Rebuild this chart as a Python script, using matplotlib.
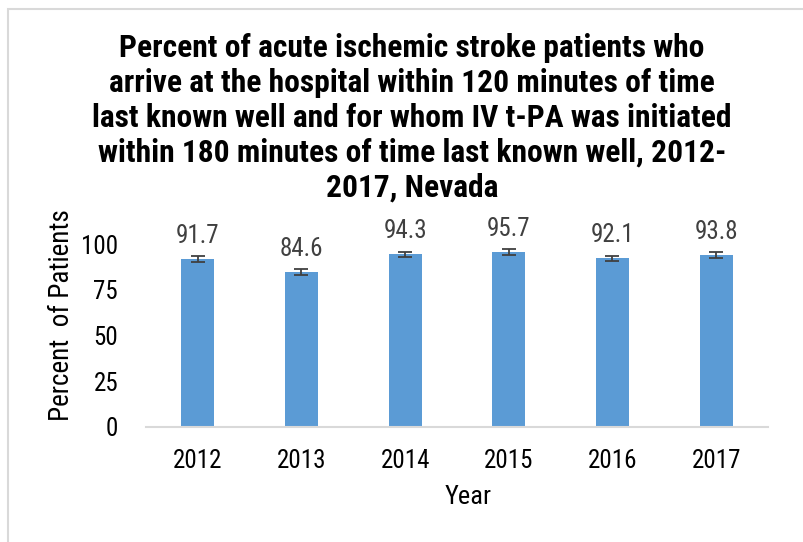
import matplotlib
matplotlib.use('Agg')
import matplotlib.pyplot as plt
from matplotlib.patches import Rectangle

plt.rcParams['font.family'] = ['Roboto Condensed', 'DejaVu Sans']

# Data
years = ['2012', '2013', '2014', '2015', '2016', '2017']
percent = [91.7, 84.6, 94.3, 95.7, 92.1, 93.8]
err = [1.7, 1.7, 1.6, 1.5, 1.6, 1.6]
yticks = [0, 25, 50, 75, 100]

title = ("Percent of acute ischemic stroke patients who\n"
         "arrive at the hospital within 120 minutes of time\n"
         "last known well and for whom IV t-PA was initiated\n"
         "within 180 minutes of time last known well, 2012-\n"
         "2017, Nevada")

fig = plt.figure(figsize=(8.04, 5.42), dpi=100)
# outer chart border (only left and top show inside the image)
fig.patches.append(Rectangle((8 / 804, -0.1), 1.2, 1 - 9 / 542 + 0.1,
                             transform=fig.transFigure, fill=False,
                             edgecolor='#D9D9D9', linewidth=1.5))

ax = fig.add_axes([146 / 804, 1 - 427 / 542, 622 / 804, 183 / 542])
x = range(len(years))
ax.bar(x, percent, width=0.32, color='#5B9BD5', zorder=2)
ax.errorbar(x, percent, yerr=err, fmt='none', ecolor='#404040',
            elinewidth=1.3, capsize=5, capthick=1.3, zorder=3)
for xi, v in zip(x, percent):
    ax.text(xi, v + 6, f'{v:.1f}', ha='center', va='bottom',
            fontsize=18, color='#404040', clip_on=False)

ax.set_xlim(-0.5, len(years) - 0.5)
ax.set_ylim(0, 100)
ax.set_yticks(yticks)
ax.set_xticks(list(x))
ax.set_xticklabels(years)
ax.tick_params(axis='both', length=0, labelsize=18, colors='black')
ax.tick_params(axis='x', pad=16)
ax.tick_params(axis='y', pad=20)
for s in ['top', 'right', 'left']:
    ax.spines[s].set_visible(False)
ax.spines['bottom'].set_color('#D9D9D9')
ax.spines['bottom'].set_linewidth(1.5)

ax.set_xlabel('Year', fontsize=19)
ax.xaxis.set_label_coords((468 - 146) / 622, -(497 - 427) / 183, transform=ax.transAxes)
ax.set_ylabel('Percent  of Patients', fontsize=19.5)
ax.yaxis.set_label_coords((62 - 146) / 622, (427 - 315) / 183, transform=ax.transAxes)
ax.xaxis.label.set_va('center')
ax.yaxis.label.set_va('center')

fig.text(412 / 804, 1 - 33 / 542, title, ha='center', va='top', fontsize=22.7,
         fontweight='bold', linespacing=1.2)

fig.savefig('out.png', dpi=100)
